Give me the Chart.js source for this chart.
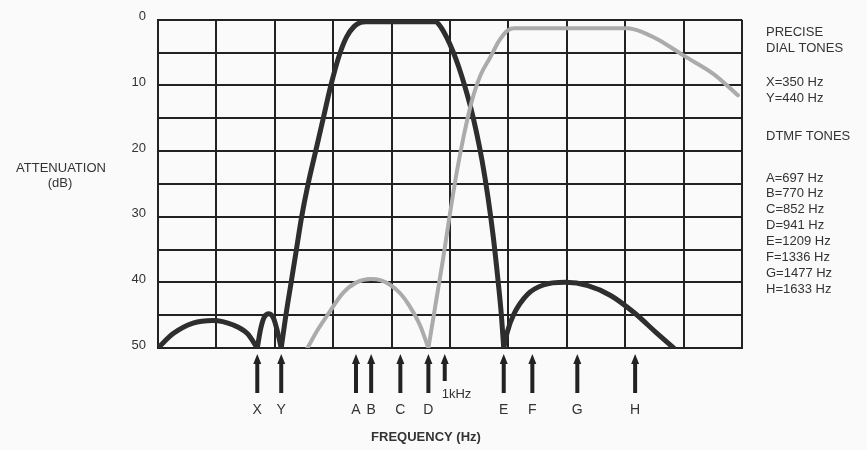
<!DOCTYPE html>
<html>
<head>
<meta charset="utf-8">
<script src="https://cdn.jsdelivr.net/npm/chart.js@4.4.0/dist/chart.umd.min.js"></script>
<style>
  html, body { margin: 0; padding: 0; background: #fafafa; }
  canvas { display: block; }
</style>
</head>
<body>
<canvas id="filter-chart" width="867" height="450"></canvas>
<script>
// frequency axis is in grid columns (0..10), the original has no numeric Hz scale
const toneLetters = ['X', 'Y', 'A', 'B', 'C', 'D', 'E', 'F', 'G', 'H'];
const toneHz = [350, 440, 697, 770, 852, 941, 1209, 1336, 1477, 1633];
const tonePos = [1.70, 2.11, 3.39, 3.65, 4.15, 4.63, 5.92, 6.41, 7.18, 8.17];
const kHzPos = 4.91;

// dial tone filter (dark curve), attenuation in dB
const dialX = [0, 0.26, 0.60, 0.94, 1.29, 1.53, 1.70,
  1.76, 1.82, 1.90, 1.98, 2.04, 2.11,
  2.19, 2.28, 2.37, 2.46, 2.57, 2.70, 2.83, 2.96, 3.10, 3.23, 3.36, 3.47, 3.56,
  4.75, 4.85, 4.95, 5.05, 5.15, 5.25, 5.35, 5.45, 5.55, 5.65, 5.74, 5.82, 5.88, 5.92,
  5.98, 6.09, 6.33, 6.60, 6.98, 7.36, 7.75, 8.15, 8.56, 8.83];
const dialDb = [50, 47.8, 46.2, 45.8, 46.5, 47.8, 50,
  47, 45.3, 44.8, 45.5, 47.3, 50,
  45, 40, 35, 30, 25, 20, 15, 10, 5.5, 2.6, 1, 0.4, 0.3,
  0.3, 1.2, 2.8, 4.8, 7.2, 10, 13.2, 17, 21.5, 27, 33, 39.5, 45, 50,
  47.6, 44.9, 41.8, 40.4, 40, 40.5, 42, 44.6, 47.9, 50];

// DTMF filter (grey curve)
const dtmfX = [2.56, 2.73, 2.90, 3.17, 3.40, 3.64, 3.82, 3.98, 4.15, 4.30, 4.49, 4.63,
  4.75, 4.88, 5.00, 5.12, 5.24, 5.37, 5.52, 5.69, 5.84, 5.99, 6.10,
  8.04, 8.30, 8.56, 9.01, 9.52, 9.93];
const dtmfDb = [50, 47.3, 45, 41.6, 40, 39.5, 39.7, 40.4, 41.7, 43.5, 46.6, 50,
  43.5, 36.5, 29.5, 23, 17.5, 12.5, 8.5, 5.7, 3.2, 1.6, 1.3,
  1.3, 1.9, 3, 5.5, 8.3, 11.5];

const yLabels = [0, 10, 20, 30, 40, 50];

const FONT = '"Liberation Sans", Arial, sans-serif';
const INK = '#222';

// break a curve at its notches so every lobe meets the next one in a sharp V
const splitLobes = function (xs, ys) {
  let lobes = [];
  let current = [];
  for (let i = 0; i < xs.length; i++) {
    current.push({x: xs[i], y: ys[i]});
    if (ys[i] >= 50 && current.length > 1) {
      lobes.push(current);
      current = [{x: xs[i], y: ys[i]}];
    }
  }
  if (current.length > 1) lobes.push(current);
  return lobes;
};

const lobeSet = function (points, colour, width) {
  return {
    data: points,
    borderColor: colour,
    borderWidth: width,
    pointRadius: 0,
    fill: false,
    cubicInterpolationMode: 'monotone',
    borderCapStyle: 'round',
    borderJoinStyle: 'round'
  };
};

let datasets = [];
for (const lobe of splitLobes(dtmfX, dtmfDb)) datasets.push(lobeSet(lobe, '#ababab', 4));
for (const lobe of splitLobes(dialX, dialDb)) datasets.push(lobeSet(lobe, '#2e2e2e', 5));

// arrows, letters and side texts
const annotations = {
  id: 'annotations',
  beforeDraw(chart) {
    const ctx = chart.ctx;
    ctx.save();
    ctx.fillStyle = '#fafafa';
    ctx.fillRect(0, 0, chart.width, chart.height);
    ctx.restore();
  },
  afterDraw(chart) {
    const ctx = chart.ctx;
    const xs = chart.scales.x;
    const bottom = chart.chartArea.bottom;

    const arrow = function (x, top, end) {
      ctx.fillStyle = INK;
      ctx.strokeStyle = INK;
      ctx.lineWidth = 4;
      ctx.beginPath();
      ctx.moveTo(x, top + 8);
      ctx.lineTo(x, end);
      ctx.stroke();
      ctx.beginPath();
      ctx.moveTo(x, top);
      ctx.lineTo(x - 4, top + 10);
      ctx.lineTo(x + 4, top + 10);
      ctx.closePath();
      ctx.fill();
    };

    ctx.save();
    ctx.textBaseline = 'middle';
    ctx.textAlign = 'center';
    ctx.font = '14px ' + FONT;
    tonePos.forEach((p, i) => {
      const x = xs.getPixelForValue(p);
      arrow(x, bottom + 6, bottom + 45);
      ctx.fillStyle = '#333';
      ctx.fillText(toneLetters[i], x, bottom + 62);
    });
    const kx = xs.getPixelForValue(kHzPos);
    arrow(kx, bottom + 6, bottom + 33);
    ctx.textAlign = 'left';
    ctx.font = '13px ' + FONT;
    ctx.fillStyle = '#333';
    ctx.fillText('1kHz', kx - 3, bottom + 46);

    ctx.textAlign = 'center';
    ctx.font = 'bold 13px ' + FONT;
    ctx.fillText('FREQUENCY (Hz)', 426, 437);

    // y-axis title
    ctx.font = '13px ' + FONT;
    ctx.fillText('ATTENUATION', 61, 168);
    ctx.fillText('(dB)', 60, 183);

    // tone key on the right
    ctx.textAlign = 'left';
    const keyX = 766;
    ctx.fillText('PRECISE', keyX, 32);
    ctx.fillText('DIAL TONES', keyX, 48);
    ctx.fillText(toneLetters[0] + '=' + toneHz[0] + ' Hz', keyX, 82);
    ctx.fillText(toneLetters[1] + '=' + toneHz[1] + ' Hz', keyX, 98);
    ctx.fillText('DTMF TONES', keyX, 136);
    for (let i = 2; i < toneLetters.length; i++) {
      ctx.fillText(toneLetters[i] + '=' + toneHz[i] + ' Hz', keyX, 178 + (i - 2) * 15.9);
    }
    ctx.restore();
  }
};

new Chart(document.getElementById('filter-chart'), {
  type: 'line',
  data: { datasets: datasets },
  options: {
    responsive: false,
    animation: false,
    devicePixelRatio: 1,
    layout: { padding: { left: 0, right: 125, top: 15, bottom: 102 } },
    plugins: {
      legend: { display: false },
      tooltip: { enabled: false }
    },
    scales: {
      x: {
        type: 'linear',
        min: 0,
        max: 10,
        ticks: { display: false, stepSize: 1 },
        grid: { color: INK, lineWidth: 2, drawTicks: false },
        border: { color: INK, width: 2 },
        afterFit: (scale) => { scale.height = 0; }
      },
      y: {
        min: 0,
        max: 50,
        reverse: true,
        ticks: {
          stepSize: 5,
          padding: 12,
          labelOffset: -3,
          color: '#333',
          font: { family: FONT, size: 13 },
          callback: (v) => yLabels.includes(v) ? v : ''
        },
        grid: { color: INK, lineWidth: 2, drawTicks: false },
        border: { color: INK, width: 2 },
        afterFit: (scale) => { scale.width = 158; }
      }
    }
  },
  plugins: [annotations]
});
</script>
</body>
</html>
